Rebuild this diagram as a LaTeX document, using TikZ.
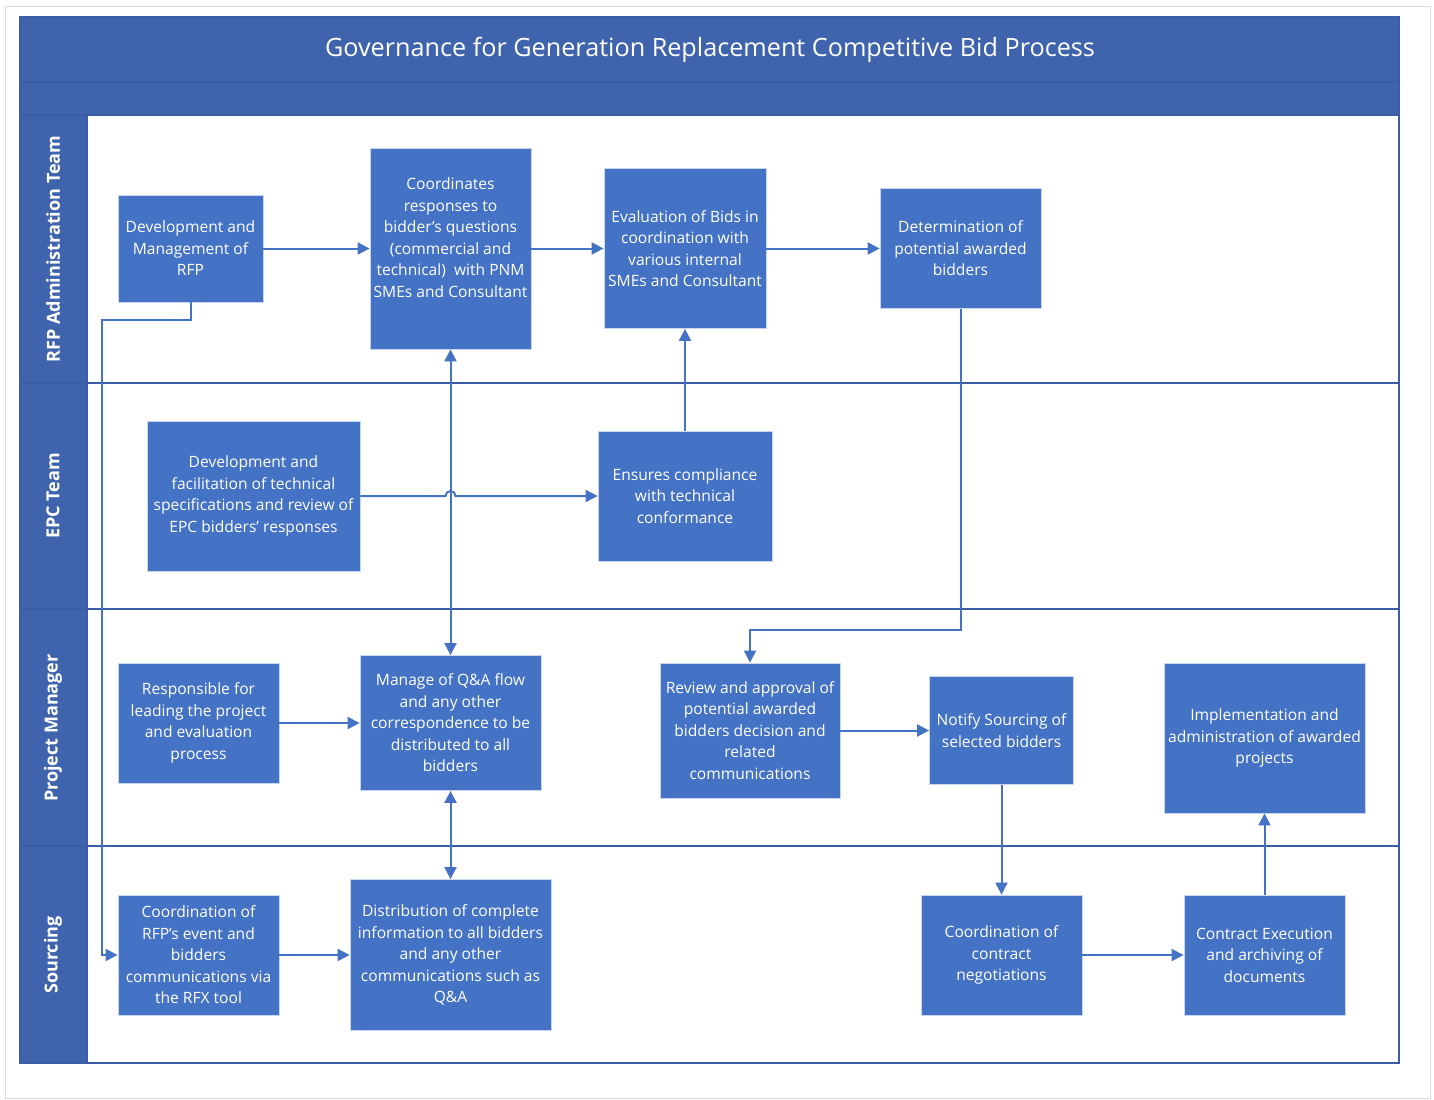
\documentclass[tikz,border=0pt]{standalone}
\usepackage{fontspec}
\setmainfont{Open Sans}
\usetikzlibrary{arrows.meta}
\definecolor{headblue}{HTML}{3F64AD}
\definecolor{boxblue}{HTML}{4472C4}
\definecolor{edgeblue}{HTML}{3A5DA6}
\definecolor{framegray}{HTML}{DADADA}
\begin{document}
\begin{tikzpicture}[x=0.5pt,y=-0.5pt]
  \tikzset{
    procbox/.style={fill=boxblue, draw=white!70!boxblue, line width=0.4pt, text=white,
      align=center, inner sep=0pt, font=\fontsize{7.8}{10.75}\selectfont},
    flow/.style={draw=boxblue, line width=1pt, -{Triangle[length=6pt,width=6pt]}},
    twoway/.style={flow, {Triangle[length=6pt,width=6pt]}-{Triangle[length=6pt,width=6pt]}},
    lanelabel/.style={rotate=90, text=white, font=\fontsize{9}{11}\selectfont\bfseries},
    laneline/.style={draw=edgeblue, line width=0.9pt},
  }
  \def\pxu{0.5pt}
  \useasboundingbox (0,0) rectangle (1434,1099);
  \draw[framegray, line width=0.5pt] (5,6) rectangle (1430,1098);

  % header and lanes
  \fill[headblue] (20,17) rectangle (1399,115);
  \fill[headblue] (20,115) rectangle (87,1063);
  \draw[laneline] (20,82) -- (1399,82);
  \draw[laneline] (20,115) -- (1399,115);
  \draw[laneline] (87,115) -- (87,1063);
  \foreach \yy in {383,609,846}
    \draw[laneline] (20,\yy) -- (1399,\yy);
  \draw[edgeblue, line width=1pt] (20,17) rectangle (1399,1063);

  \node[text=white, font=\fontsize{12.6}{15}\selectfont] (title) at (710,50)
    {Governance for Generation Replacement Competitive Bid Process};
  \node[lanelabel] (rfplane) at (53,249) {RFP Administration Team};
  \node[lanelabel] (epclane) at (53,496) {EPC Team};
  \node[lanelabel] (pmlane) at (53,728) {Project Manager};
  \node[lanelabel] (srclane) at (53,955) {Sourcing};

  % RFP administration team
  \node[procbox, minimum width=145*\pxu, minimum height=107*\pxu] (devrfp) at (190.5,248.5)
    {Development and\\Management of\\RFP};
  \node[procbox, minimum width=161*\pxu, minimum height=201*\pxu] (coordq) at (450.5,248.5)
    {Coordinates\\responses to\\bidder’s questions\\(commercial and\\technical)~ with PNM\\SMEs and Consultant\\~};
  \node[procbox, minimum width=162*\pxu, minimum height=160*\pxu] (evalbids) at (685,248.5)
    {Evaluation of Bids in\\coordination with\\various internal\\SMEs and Consultant};
  \node[procbox, minimum width=161*\pxu, minimum height=120*\pxu] (determ) at (960.5,248.5)
    {Determination of\\potential awarded\\bidders};

  % EPC team
  \node[procbox, minimum width=213*\pxu, minimum height=150*\pxu] (epcdev) at (253.5,496)
    {Development and\\facilitation of technical\\specifications and review of\\EPC bidders’ responses};
  \node[procbox, minimum width=174*\pxu, minimum height=130*\pxu] (ensures) at (685,496)
    {Ensures compliance\\with technical\\conformance};

  % project manager
  \node[procbox, minimum width=161*\pxu, minimum height=120*\pxu] (lead) at (198.5,723)
    {Responsible for\\leading the project\\and evaluation\\process};
  \node[procbox, minimum width=181*\pxu, minimum height=135*\pxu] (qaflow) at (450.5,723)
    {Manage of Q\&A flow\\and any other\\correspondence to be\\distributed to all\\bidders};
  \node[procbox, minimum width=180*\pxu, minimum height=135*\pxu] (review) at (750,730.5)
    {Review and approval of\\potential awarded\\bidders decision and\\related\\communications};
  \node[procbox, minimum width=144*\pxu, minimum height=108*\pxu] (notify) at (1001.5,730.5)
    {Notify Sourcing of\\selected bidders};
  \node[procbox, minimum width=201*\pxu, minimum height=150*\pxu] (implem) at (1264.5,738)
    {Implementation and\\administration of awarded\\projects};

  % sourcing
  \node[procbox, minimum width=161*\pxu, minimum height=120*\pxu] (rfxevent) at (198.5,955)
    {Coordination of\\RFP’s event and\\bidders\\communications via\\the RFX tool};
  \node[procbox, minimum width=201*\pxu, minimum height=151*\pxu] (distrib) at (450.5,955)
    {Distribution of complete\\information to all bidders\\and any other\\communications such as\\Q\&A};
  \node[procbox, minimum width=161*\pxu, minimum height=120*\pxu] (negot) at (1001.5,955)
    {Coordination of\\contract\\negotiations};
  \node[procbox, minimum width=161*\pxu, minimum height=120*\pxu] (execut) at (1264.5,955)
    {Contract Execution\\and archiving of\\documents};

  % connectors
  \coordinate (rfpbend) at (102,320);
  \coordinate (jog) at (750,630);
  \coordinate (hop) at (coordq.south |- epcdev.east);
  \draw[flow] (devrfp) -- (coordq);
  \draw[flow] (coordq) -- (evalbids);
  \draw[flow] (evalbids) -- (determ);
  \draw[flow] (devrfp.south) |- (rfpbend) |- (rfxevent.west);
  \draw[twoway] (coordq) -- (qaflow);
  \draw[flow] (epcdev.east) -- ([xshift=-2.5pt]hop) arc[start angle=180, end angle=0, radius=2.5pt]
    -- (ensures.west);
  \draw[flow] (ensures) -- (evalbids);
  \draw[flow] (determ.south) |- (jog) -- (review.north);
  \draw[flow] (lead) -- (qaflow);
  \draw[flow] (review) -- (notify);
  \draw[flow] (notify) -- (negot);
  \draw[twoway] (qaflow) -- (distrib);
  \draw[flow] (rfxevent) -- (distrib);
  \draw[flow] (negot) -- (execut);
  \draw[flow] (execut) -- (implem);
\end{tikzpicture}
\end{document}
